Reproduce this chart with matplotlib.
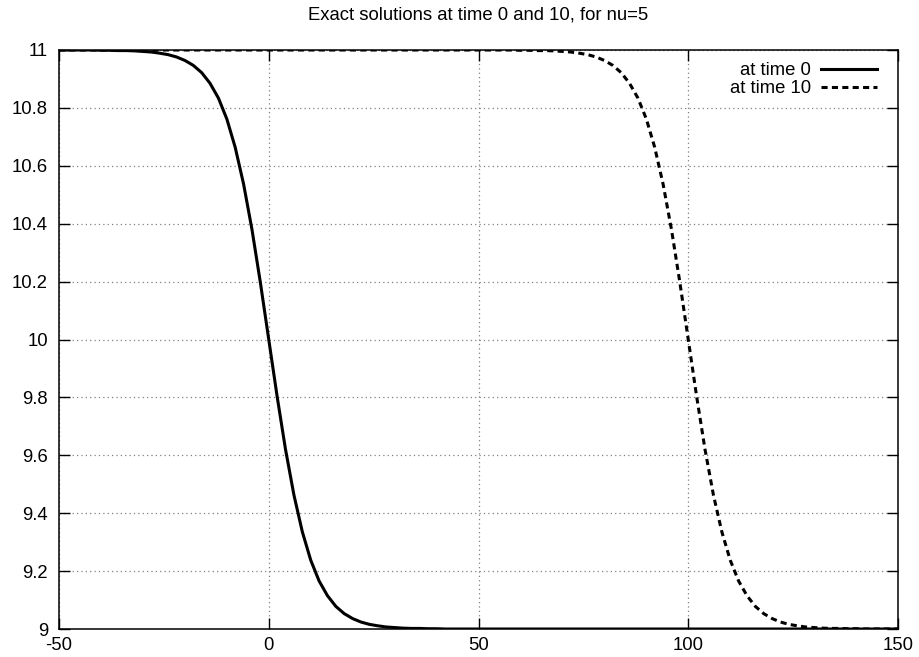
import matplotlib
matplotlib.use("Agg")
import matplotlib.pyplot as plt

plt.rcParams['font.family'] = ['Liberation Sans', 'DejaVu Sans']

# Sample positions (step 2 over the plotted range)
x = list(range(-50, 151, 2))

# Shape of the front: 41 samples across the transition zone
front = [10.999, 10.999, 10.998, 10.998, 10.997, 10.995, 10.993, 10.989,
         10.984, 10.976, 10.964, 10.947, 10.922, 10.885, 10.834, 10.762,
         10.664, 10.537, 10.380, 10.197, 10.000, 9.803, 9.620, 9.463,
         9.336, 9.238, 9.166, 9.115, 9.078, 9.053, 9.036, 9.024,
         9.016, 9.011, 9.007, 9.005, 9.003, 9.002, 9.002, 9.001, 9.001]

u_t0 = [11.0] * 5 + front + [9.0] * 55
u_t10 = [11.0] * 55 + front + [9.0] * 5

labels = ["at time 0", "at time 10"]
title = "Exact solutions at time 0 and 10, for nu=5"
xticks = [-50, 0, 50, 100, 150]
yticks = [9, 9.2, 9.4, 9.6, 9.8, 10, 10.2, 10.4, 10.6, 10.8, 11]
ytick_labels = ["9", "9.2", "9.4", "9.6", "9.8", "10", "10.2", "10.4", "10.6", "10.8", "11"]

fs = 13.3

fig = plt.figure(figsize=(9.2, 6.57), dpi=100)
ax = fig.add_axes([59 / 920, 1 - 629 / 657, (898 - 59) / 920, (629 - 50) / 657])

ax.plot(x, u_t0, color="black", lw=2.2, label=labels[0])
ax.plot(x, u_t10, color="black", lw=2.2, ls=(0, (2.0, 1.4)), label=labels[1])

ax.set_xlim(-50, 150)
ax.set_ylim(9, 11)
ax.set_xticks(xticks)
ax.set_xticklabels([str(t) for t in xticks])
ax.set_yticks(yticks)
ax.set_yticklabels(ytick_labels)

ax.grid(True, color="#808080", ls=(0, (1, 2.5)), lw=0.9)
ax.tick_params(direction="in", length=8, width=1, top=True, right=True,
               labelsize=fs)
ax.tick_params(axis="y", pad=8)
ax.tick_params(axis="x", pad=6)
for s in ax.spines.values():
    s.set_linewidth(1.1)

ax.set_title(title, fontsize=fs, pad=22)

leg = ax.legend(loc="upper right", bbox_to_anchor=(1.0, 1.0 + 9 / 579),
                frameon=False, markerfirst=False,
                fontsize=fs, handlelength=3.0, handletextpad=0.55,
                labelspacing=0.05, borderaxespad=0.75)
for t in leg.get_texts():
    t.set_ha("right")

fig.savefig("out.png", dpi=100)
